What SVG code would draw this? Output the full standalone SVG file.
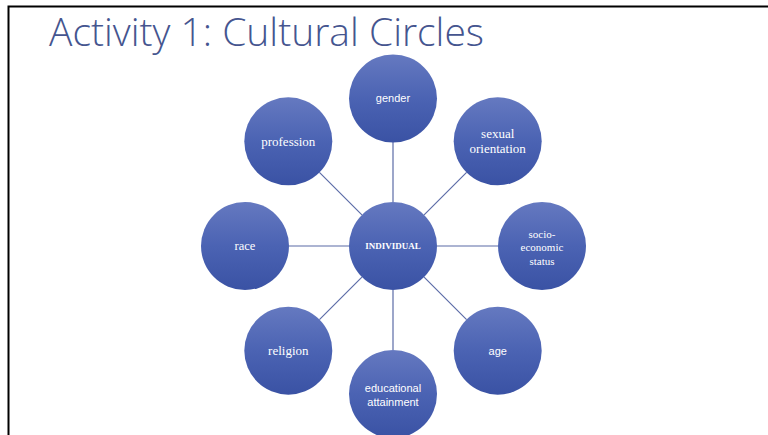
<svg xmlns="http://www.w3.org/2000/svg" width="768" height="435" viewBox="0 0 768 435">
  <defs>
    <linearGradient id="ballFill" x1="0" y1="0" x2="0" y2="1">
      <stop offset="0" stop-color="#6579c0"/>
      <stop offset="0.5" stop-color="#4b63b3"/>
      <stop offset="1" stop-color="#3a52a4"/>
    </linearGradient>
    <style>
      .ball { fill: url(#ballFill); }
      .link { stroke: #5b6ba6; stroke-width: 1.2; fill: none; }
      .serif { font-family: "Liberation Serif", "Times New Roman", serif; font-size: 12.5px; fill: #ffffff; text-anchor: middle; }
      .serif.big { font-size: 13px; }
      .serif.small { font-size: 11px; }
      .sans { font-family: "Liberation Sans", Arial, sans-serif; font-size: 11px; fill: #ffffff; text-anchor: middle; }
      .hub { font-family: "Liberation Serif", "Times New Roman", serif; font-size: 9px; font-weight: bold; fill: #ffffff; text-anchor: middle; }
      .title { font-family: "Open Sans", "DejaVu Sans", sans-serif; font-weight: 300; font-size: 38px; fill: #45558f; }
    </style>
  </defs>

  <rect width="768" height="435" fill="#ffffff"/>

  <!-- slide frame -->
  <path d="M8.5 435 V6.5 H768" fill="none" stroke="#000000" stroke-width="2"/>

  <text class="title" x="49" y="46" textLength="435" lengthAdjust="spacingAndGlyphs">Activity 1: Cultural Circles</text>

  <!-- spokes from the hub to each outer circle -->
  <g id="connectors">
    <line class="link" x1="393" y1="202" x2="393" y2="142"/>
    <line class="link" x1="424.1" y1="214.9" x2="466.6" y2="172.4"/>
    <line class="link" x1="437" y1="246" x2="498" y2="246"/>
    <line class="link" x1="424.1" y1="277.1" x2="466.6" y2="319.6"/>
    <line class="link" x1="393" y1="290" x2="393" y2="350"/>
    <line class="link" x1="361.9" y1="277.1" x2="319.4" y2="319.6"/>
    <line class="link" x1="349" y1="246" x2="289" y2="246"/>
    <line class="link" x1="361.9" y1="214.9" x2="319.4" y2="172.4"/>
  </g>

  <g id="individual">
    <circle class="ball" cx="393" cy="246" r="44"/>
    <text class="hub" x="393" y="249.3">INDIVIDUAL</text>
  </g>

  <g id="gender">
    <circle class="ball" cx="393" cy="98.5" r="44"/>
    <text class="sans" x="393" y="102">gender</text>
  </g>

  <g id="sexual-orientation">
    <circle class="ball" cx="497.7" cy="141.3" r="44"/>
    <text class="serif big" x="497.7" y="137.5">sexual</text>
    <text class="serif big" x="497.7" y="153">orientation</text>
  </g>

  <g id="socio-economic-status">
    <circle class="ball" cx="542" cy="246" r="44"/>
    <text class="serif small" x="542" y="237.5">socio-</text>
    <text class="serif small" x="542" y="251">economic</text>
    <text class="serif small" x="542" y="264.5">status</text>
  </g>

  <g id="age">
    <circle class="ball" cx="497.7" cy="350.7" r="44"/>
    <text class="sans" x="497.7" y="355">age</text>
  </g>

  <g id="educational-attainment">
    <circle class="ball" cx="393" cy="394" r="44"/>
    <text class="sans" x="393" y="391.5">educational</text>
    <text class="sans" x="393" y="405.5">attainment</text>
  </g>

  <g id="religion">
    <circle class="ball" cx="288.3" cy="350.7" r="44"/>
    <text class="serif big" x="288.3" y="355">religion</text>
  </g>

  <g id="race">
    <circle class="ball" cx="245" cy="246" r="44"/>
    <text class="serif" x="245" y="250">race</text>
  </g>

  <g id="profession">
    <circle class="ball" cx="288.3" cy="141.3" r="44"/>
    <text class="serif big" x="288.3" y="145.5">profession</text>
  </g>
</svg>
